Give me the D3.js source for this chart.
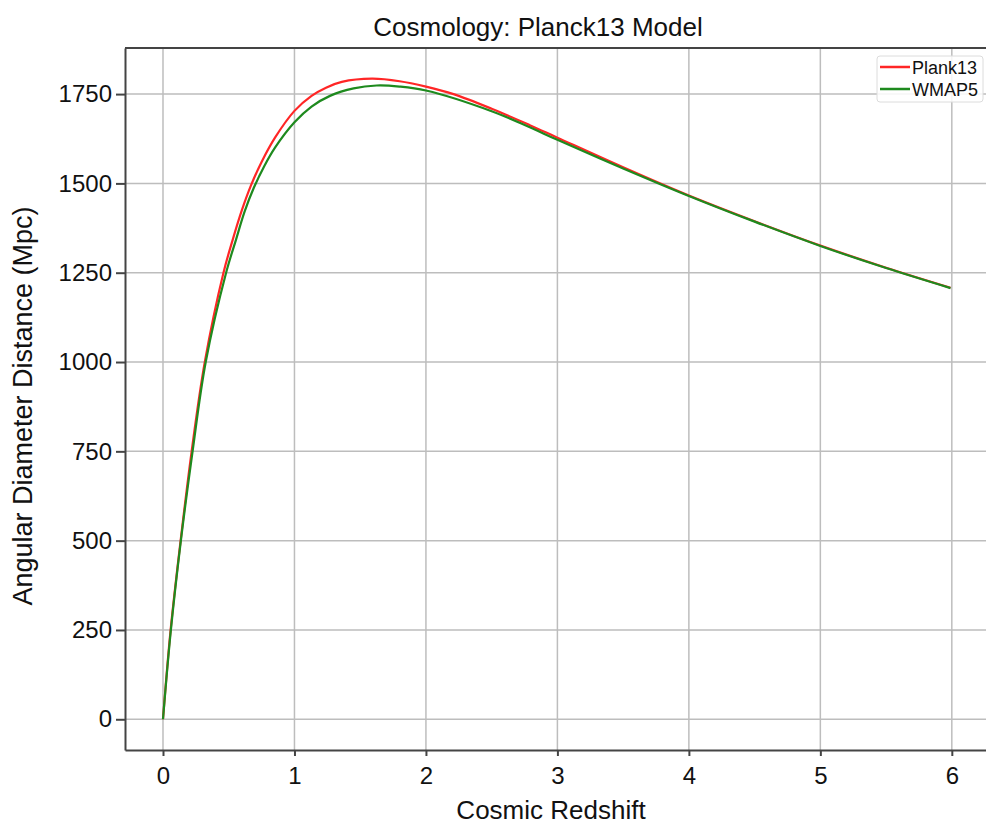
<!DOCTYPE html>
<html lang="en">
	<head>
		<meta charset="utf-8">
		<title>Cosmology: Planck13 Model</title>
		<script src="https://d3js.org/d3.v7.min.js"></script>
		<style>
			body{
				margin: 0;
				background: #fff;
			}
			text{
				font-family: 'Liberation Sans', Arial, sans-serif;
				fill: #111;
			}
			.grid line{
				stroke: #bdbdbd;
				stroke-width: 1.5;
			}
		</style>
	</head>
	<body>
		<script>
			//Width and height
			var w = 986;
			var h = 825;
			var plotLeft = 125, plotTop = 48, plotRight = 986, plotBottom = 750;

			//redshift / distance (Mpc)
			var planckZ = [0, 0.058, 0.134, 0.218, 0.318, 0.46, 0.53, 0.6, 0.67, 0.75, 0.852, 1.0, 1.13, 1.24, 1.36, 1.59, 1.8, 2.0, 2.21, 2.5, 2.79, 3.0, 3.5, 4.0, 4.5, 5.0, 5.5, 5.99];
			var planckD = [0, 250, 500, 750, 1000, 1250, 1342, 1425, 1495, 1560, 1628, 1703, 1745, 1768, 1784, 1793, 1786, 1771, 1750, 1709, 1663, 1628, 1545, 1466, 1394, 1326, 1264, 1208];

			var wmapZ = [0, 0.06, 0.136, 0.225, 0.325, 0.48, 0.555, 0.62, 0.69, 0.77, 0.852, 1.0, 1.13, 1.27, 1.45, 1.625, 1.8, 2.0, 2.5, 2.79, 3.0, 3.5, 4.0, 4.5, 5.0, 5.5, 5.99];
			var wmapD = [0, 250, 500, 750, 1000, 1250, 1342, 1420, 1487, 1548, 1600, 1671, 1715, 1745, 1766, 1774, 1771, 1760, 1702, 1657, 1622, 1542, 1465, 1393, 1325, 1263, 1207];

			var xTicks = [0, 1, 2, 3, 4, 5, 6];
			var yTicks = [0, 250, 500, 750, 1000, 1250, 1500, 1750];

			var seriesNames = ["Plank13", "WMAP5"];
			var seriesColors = ["#ff2626", "#1e8a1e"];

			var series = [
				d3.zip(planckZ, planckD),
				d3.zip(wmapZ, wmapD)
			];

			//scales
			var xScale = d3.scaleLinear()
								.domain([-0.289, 6.26])
								.range([plotLeft, plotRight]);

			var yScale = d3.scaleLinear()
								.domain([-86, 1879])
								.range([plotBottom, plotTop]);

			var svg = d3.select("body")
						.append("svg")
						.attr("width", w)
						.attr("height", h);

			//grid
			svg.append("g")
				.attr("class", "grid")
				.selectAll("line")
				.data(xTicks)
				.enter()
				.append("line")
				.attr("x1", function(d) { return xScale(d); })
				.attr("x2", function(d) { return xScale(d); })
				.attr("y1", plotTop)
				.attr("y2", plotBottom);

			svg.append("g")
				.attr("class", "grid")
				.selectAll("line")
				.data(yTicks)
				.enter()
				.append("line")
				.attr("x1", plotLeft)
				.attr("x2", plotRight)
				.attr("y1", function(d) { return yScale(d); })
				.attr("y2", function(d) { return yScale(d); });

			//curves
			var line = d3.line()
						.x(function(d) { return xScale(d[0]); })
						.y(function(d) { return yScale(d[1]); })
						.curve(d3.curveCatmullRom.alpha(0.5));

			svg.selectAll("path.curve")
				.data(series)
				.enter()
				.append("path")
				.attr("class", "curve")
				.attr("d", line)
				.attr("fill", "none")
				.attr("stroke", function(d, i) { return seriesColors[i]; })
				.attr("stroke-width", 2.2);

			//axes
			var xAxis = d3.axisBottom(xScale)
							.tickValues(xTicks)
							.tickFormat(d3.format("d"))
							.tickSize(6)
							.tickSizeOuter(0)
							.tickPadding(11);

			var yAxis = d3.axisLeft(yScale)
							.tickValues(yTicks)
							.tickFormat(d3.format("d"))
							.tickSize(9)
							.tickSizeOuter(0)
							.tickPadding(4);

			var gx = svg.append("g")
				.attr("transform", "translate(0," + plotBottom + ")")
				.call(xAxis);

			var gy = svg.append("g")
				.attr("transform", "translate(" + plotLeft + ",0)")
				.call(yAxis);

			[gx, gy].forEach(function(g) {
				g.select(".domain").attr("stroke", "#444").attr("stroke-width", 2);
				g.selectAll(".tick line").attr("stroke", "#444").attr("stroke-width", 2);
				g.selectAll(".tick text")
					.attr("font-size", "24px")
					.attr("font-family", "'Liberation Sans', Arial, sans-serif")
					.attr("fill", "#111");
			});

			//top border
			svg.append("line")
				.attr("x1", plotLeft)
				.attr("x2", plotRight)
				.attr("y1", plotTop)
				.attr("y2", plotTop)
				.attr("stroke", "#444")
				.attr("stroke-width", 2);

			//title and axis labels
			svg.append("text")
				.attr("x", 538)
				.attr("y", 36)
				.attr("text-anchor", "middle")
				.attr("font-size", "26px")
				.text("Cosmology: Planck13 Model");

			svg.append("text")
				.attr("x", 551)
				.attr("y", 819)
				.attr("text-anchor", "middle")
				.attr("font-size", "26px")
				.text("Cosmic Redshift");

			svg.append("text")
				.attr("transform", "translate(32,406) rotate(-90)")
				.attr("text-anchor", "middle")
				.attr("font-size", "27px")
				.text("Angular Diameter Distance (Mpc)");

			//legend
			var legend = svg.append("g")
				.attr("transform", "translate(877,56)");

			legend.append("rect")
				.attr("width", 106)
				.attr("height", 46)
				.attr("rx", 3)
				.attr("fill", "#fff")
				.attr("fill-opacity", 0.85)
				.attr("stroke", "#dcdcdc")
				.attr("stroke-width", 1);

			var items = legend.selectAll("g.item")
				.data(seriesNames)
				.enter()
				.append("g")
				.attr("class", "item")
				.attr("transform", function(d, i) { return "translate(0," + (11 + i * 22) + ")"; });

			items.append("line")
				.attr("x1", 3)
				.attr("x2", 33)
				.attr("stroke", function(d, i) { return seriesColors[i]; })
				.attr("stroke-width", 2.5);

			items.append("text")
				.attr("x", 35)
				.attr("y", 6.5)
				.attr("font-size", "18px")
				.text(function(d) { return d; });
		</script>
	</body>
</html>
